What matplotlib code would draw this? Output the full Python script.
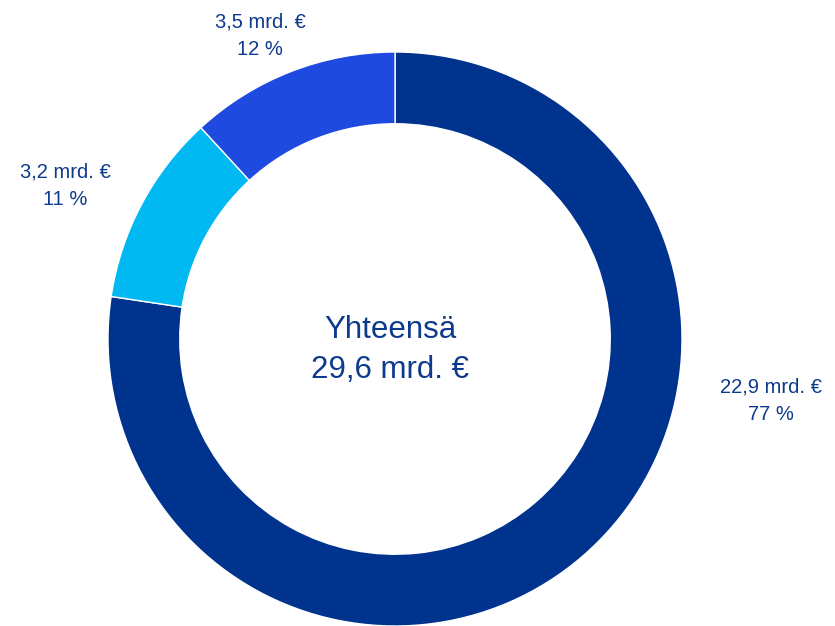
import matplotlib.pyplot as plt

plt.rcParams['font.family'] = ['Liberation Sans', 'DejaVu Sans']

segments = ["Suuri", "Keskikokoinen", "Pieni"]
values = [22.9, 3.2, 3.5]
shares = [77, 11, 12]
colors = ["#00338D", "#00B9F2", "#1F4AE0"]
total = 29.6
text_color = "#0D3A8C"

# label anchor points (in units of the outer radius, relative to centre)
label_pos = [(1.31, -0.214), (-1.15, 0.535), (-0.469, 1.058)]


def fmt(v):
    return f"{v:.1f}".replace(".", ",")


fig = plt.figure(figsize=(8.35, 6.26), dpi=100)
ax = fig.add_axes([108 / 835, 0, 574 / 835, 574 / 626])

ax.pie(values, colors=colors, startangle=90, counterclock=False, radius=1,
       wedgeprops=dict(width=0.25, edgecolor="white", linewidth=1))
ax.set_xlim(-1, 1)
ax.set_ylim(-1, 1)
ax.set_aspect("equal")
ax.axis("off")

for v, s, (x, y) in zip(values, shares, label_pos):
    ax.text(x, y, f"{fmt(v)} mrd. €\n{s} %", ha="center", va="center",
            fontsize=14.5, color=text_color, linespacing=1.57, clip_on=False)

ax.text(-0.017, -0.037, f"Yhteensä\n{fmt(total)} mrd. €", ha="center", va="center",
        fontsize=22.5, color=text_color, linespacing=1.44)

fig.savefig("out.png", dpi=100, facecolor="white")
